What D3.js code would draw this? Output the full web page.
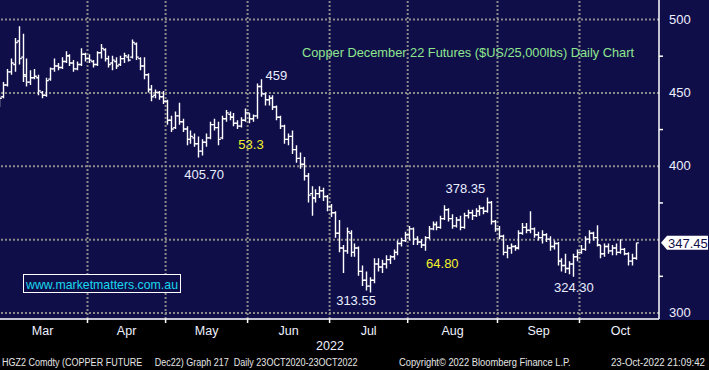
<!DOCTYPE html>
<html>
<head>
<meta charset="utf-8">
<script src="https://cdnjs.cloudflare.com/ajax/libs/d3/7.8.5/d3.min.js"></script>
<style>
  body { margin: 0; background: #000; }
  svg { display: block; font-family: "Liberation Sans", Arial, sans-serif; }
  .grid line { stroke: #8a8a8a; stroke-width: 2; stroke-dasharray: 2,2; }
  .grid path { display: none; }
  .bar { stroke: #fff; stroke-width: 1.4; fill: none; }
  .yAxis path, .xTicks path, .xLabels path { display: none; }
  .yAxis text { fill: #eef0ff; font-size: 13px; }
  .yAxis line, .xTicks line { stroke: #fff; stroke-width: 1.5; }
  .xLabels text { fill: #eef0ff; font-size: 12.5px; }
  .note { fill: #e8eeff; font-size: 13px; }
  .note.yellow { fill: #f2f22a; }
  .footer { fill: #e6e6e6; font-size: 11px; white-space: pre; }
</style>
</head>
<body>
<script>
var width = 709;
var height = 370;

var margin = { "top": 0,
               "bottom": 51,
               "left": 0,
               "right": 50 };

var plotW = width - margin.left - margin.right;   // 659
var plotH = height - margin.top - margin.bottom;  // 319

// months and trading days per month
var months = ["Mar", "Apr", "May", "Jun", "Jul", "Aug", "Sep", "Oct"];
var tradingDays = [23, 20, 21, 21, 20, 23, 21, 15];

var priceTicks = [300, 350, 400, 450, 500];
var minorTicks = [325, 375, 425, 475];

// daily OHLC, one row per month
var opens = [
  442,447,455,464,469,485,474,461,457,460,460,450,448,459,466,468,467,471,475,470,466,469,476,
  473,471,469,477,479,473,470,471,469,473,474,474,483,473,468,462,452,448,450,447,
  444,431,426,434,430,425,418,419,415,410,416,419,428,426,419,432,435,433,429,427,431,
  436,432,434,454,449,445,446,440,433,427,418,420,411,405,401,393,381,378,381,383,379,
  372,368,354,344,342,354,341,344,328,322,318,322,333,331,333,336,338,341,347,349,
  353,357,350,348,346,351,357,360,358,364,370,364,359,363,358,366,368,366,369,371,369,375,362,
  357,352,341,344,345,344,354,358,356,357,353,351,353,350,345,347,335,332,330,333,338,
  341,343,350,354,351,346,340,345,342,344,341,343,340,335,337
];
var highs = [
  448,457,466,473,487,495,490,473,465,466,462,451,460,467,473,470,474,478,476,472,471,480,477,
  476,472,478,483,480,475,475,474,475,477,476,486,484,474,474,463,455,452,451,451,
  445,434,437,443,432,427,424,422,420,418,422,430,432,430,434,438,437,436,431,433,439,
  436,435,456,459,450,448,448,441,434,428,422,424,414,409,406,395,386,384,386,385,380,
  374,369,363,346,358,356,347,345,332,328,324,337,337,336,339,339,343,349,351,355,
  359,358,352,350,352,359,362,362,366,373,371,367,365,366,368,370,370,371,373,372,378.35,376,363,
  359,353,346,347,346,356,361,361,369,358,355,356,354,352,349,348,337,340,335,340,343,
  346,352,356,355,359.5,346,347,347,346,347,350,344,341,340,347.45
];
var lows = [
  440,446,454,462,464,469,457,454,455,459,448,446,447,458,464,465,466,470,468,464,465,468,471,
  470,467,468,473,471,467,465,466,468,470,471,473,472,465,459,450,444,446,445,442,
  428,423,425,428,423,414,415,413,405.7,407,413,418,424,414,418,430,431,427,425,426,430,
  429,430,432,447,441,441,438,431,425,415,414,408,402,398,390,375,366,375,378,376,369,
  365,351,341,327,340,338,338,325,318,315,313.55,320,328,327,330,333,336,339,345,348,
  349,346,346,344,342,350,356,356,357,363,362,357,358,356,357,364,363,365,366,367,368,360,355,
  350,339,337,340,342,343,353,354,354,351,349,347,348,342,343,332,328,327,326,324.3,335,
  340,342,347,349,345,337,338,340,339,339,340,339,332,332,336
];
var closes = [
  446,455,464,470,484,473,462,457,460,461,451,448,458,466,468,467,471,475,470,466,469,476,473,
  472,469,477,480,473,469,472,468,473,475,472,484,474,468,462,452,447,450,447,444,
  431,425,434,430,425,418,420,415,410,416,419,428,426,418,432,436,433,429,427,431,436,
  432,434,454,449,445,446,440,433,427,418,420,411,405,401,393,380,378,381,383,379,372,
  368,354,344,342,355,341,344,328,322,318,322,333,331,333,336,338,341,347,349,353,
  357,350,348,346,351,357,360,358,364,370,364,359,363,358,366,368,366,369,371,369,375,362,357,
  352,341,344,345,344,354,358,356,357,353,351,353,350,345,347,335,332,330,333,338,341,
  343,350,354,351,346,340,345,342,344,341,343,340,335,337,347.45
];

// annotations: [text, day index, price level of baseline, colour class]
var notes = [
  ["459", 71.5, 458.4, ""],
  ["405.70", 53, 391, ""],
  ["53.3", 65, 411.4, "yellow"],
  ["378.35", 119.9, 381.4, ""],
  ["64.80", 114, 330.3, "yellow"],
  ["313.55", 91.9, 305.1, ""],
  ["324.30", 147.7, 314, ""]
];

var svg = d3.select("body")
              .append("svg")
              .attr("width", width)
              .attr("height", height);

svg.append("rect")
    .attr("width", width)
    .attr("height", height)
    .attr("fill", "#000");

svg.append("rect")
    .attr("width", width)
    .attr("height", plotH + 1)
    .attr("fill", "#100e49");

var scaleX = d3.scaleLinear().domain([0, 170]).range([-2.8, 661]);
var scaleY = d3.scaleLinear().domain([300, 500]).range([312.5, 19]);

var cum = Array.from(d3.cumsum(tradingDays));
var boundaries = cum.slice(0, cum.length - 1);
var mids = months.map(function(m, i) {
  var s = i == 0 ? 0 : cum[i - 1];
  var e = i == months.length - 1 ? 170 : cum[i];
  return (s + e) / 2;
});

// grid
svg.append("g")
    .attr("class", "grid")
    .attr("transform", "translate(0," + plotH + ")")
    .call(d3.axisBottom(scaleX).tickValues(boundaries).tickSize(-plotH).tickFormat(""));

svg.append("g")
    .attr("class", "grid")
    .attr("transform", "translate(" + plotW + ",0)")
    .call(d3.axisRight(scaleY).tickValues(priceTicks).tickSize(-plotW).tickFormat(""));

// ohlc bars
svg.selectAll("path.bar")
    .data(d3.range(closes.length))
    .enter()
    .append("path")
    .attr("class", "bar")
    .attr("d", function(i) {
      var cx = Math.round(scaleX(i + 0.5)) + 0.5;
      return "M" + cx + "," + scaleY(highs[i]) + "V" + scaleY(lows[i])
           + "M" + (cx - 2.3) + "," + scaleY(opens[i]) + "H" + cx
           + "M" + cx + "," + scaleY(closes[i]) + "H" + (cx + 2.3);
    });

// axis lines
svg.append("line")
    .attr("x1", 0).attr("x2", plotW)
    .attr("y1", plotH).attr("y2", plotH)
    .attr("stroke", "#fff").attr("stroke-width", 1.5);

svg.append("line")
    .attr("x1", plotW).attr("x2", plotW)
    .attr("y1", 0).attr("y2", plotH)
    .attr("stroke", "#fff").attr("stroke-width", 1.5);

// right axis
var lastClose = closes[closes.length - 1];
var labelTicks = priceTicks.filter(function(d) { return Math.abs(d - lastClose) > 6; });

var yAxis = svg.append("g")
    .attr("class", "yAxis")
    .attr("transform", "translate(" + plotW + ",0)")
    .call(d3.axisRight(scaleY).tickValues(labelTicks).tickSize(0).tickPadding(10));

yAxis.selectAll(".tick")
    .append("path")
    .attr("d", "M0,-3L8,0L0,3Z")
    .attr("fill", "#fff");

svg.append("g")
    .attr("class", "yAxis")
    .attr("transform", "translate(" + plotW + ",0)")
    .call(d3.axisRight(scaleY).tickValues(minorTicks).tickSize(4).tickFormat(""));

// last price tag
var tag = svg.append("g")
    .attr("transform", "translate(" + plotW + "," + scaleY(lastClose) + ")");

tag.append("polygon")
    .attr("points", "2,0 8,-7 49,-7 49,7 8,7")
    .attr("fill", "#fff");

tag.append("text")
    .attr("x", 9)
    .attr("dy", "0.36em")
    .attr("fill", "#100e49")
    .attr("font-size", "13px")
    .text(d3.format(".2f")(lastClose));

// bottom axis
svg.append("g")
    .attr("class", "xTicks")
    .attr("transform", "translate(0," + plotH + ")")
    .call(d3.axisBottom(scaleX).tickValues(boundaries).tickSize(4).tickFormat(""));

svg.append("g")
    .attr("class", "xLabels")
    .attr("transform", "translate(0," + plotH + ")")
    .call(d3.axisBottom(scaleX).tickValues(mids).tickSize(0).tickPadding(7)
            .tickFormat(function(d, i) { return months[i]; }));

svg.append("text")
    .attr("x", 330)
    .attr("y", 350)
    .attr("text-anchor", "middle")
    .attr("fill", "#eef0ff")
    .attr("font-size", "12.5px")
    .text("2022");

// title
svg.append("text")
    .attr("x", 302)
    .attr("y", 57)
    .attr("fill", "#8ee68e")
    .attr("font-size", "13px")
    .attr("textLength", 332)
    .attr("lengthAdjust", "spacingAndGlyphs")
    .text("Copper December 22 Futures ($US/25,000lbs) Daily Chart");

// annotations
svg.selectAll("text.note")
    .data(notes)
    .enter()
    .append("text")
    .attr("class", function(d) { return "note " + d[3]; })
    .attr("x", function(d) { return scaleX(d[1]); })
    .attr("y", function(d) { return scaleY(d[2]); })
    .attr("text-anchor", "middle")
    .text(function(d) { return d[0]; });

// web address box
svg.append("rect")
    .attr("x", 23.5).attr("y", 274.5)
    .attr("width", 157).attr("height", 18)
    .attr("fill", "#100e49")
    .attr("stroke", "#fff");

svg.append("text")
    .attr("x", 26)
    .attr("y", 289)
    .attr("fill", "#18d8ee")
    .attr("font-size", "13px")
    .attr("textLength", 152)
    .attr("lengthAdjust", "spacingAndGlyphs")
    .text("www.marketmatters.com.au");

// footer, squeezed horizontally to the bloomberg widths
var footer = [
  ["HGZ2 Comdty (COPPER FUTURE     Dec22) Graph 217  Daily 23OCT2020-23OCT2022", 2, 356],
  ["Copyright\u00a9 2022 Bloomberg Finance L.P.", 399, 172],
  ["23-Oct-2022 21:09:42", 611, 94]
];

svg.selectAll("text.footer")
    .data(footer)
    .enter()
    .append("text")
    .attr("class", "footer")
    .text(function(d) { return d[0]; })
    .attr("transform", function(d) {
      var w = this.getComputedTextLength();
      return "translate(" + d[1] + ",366) scale(" + (d[2] / w) + ",1)";
    });
</script>
</body>
</html>
